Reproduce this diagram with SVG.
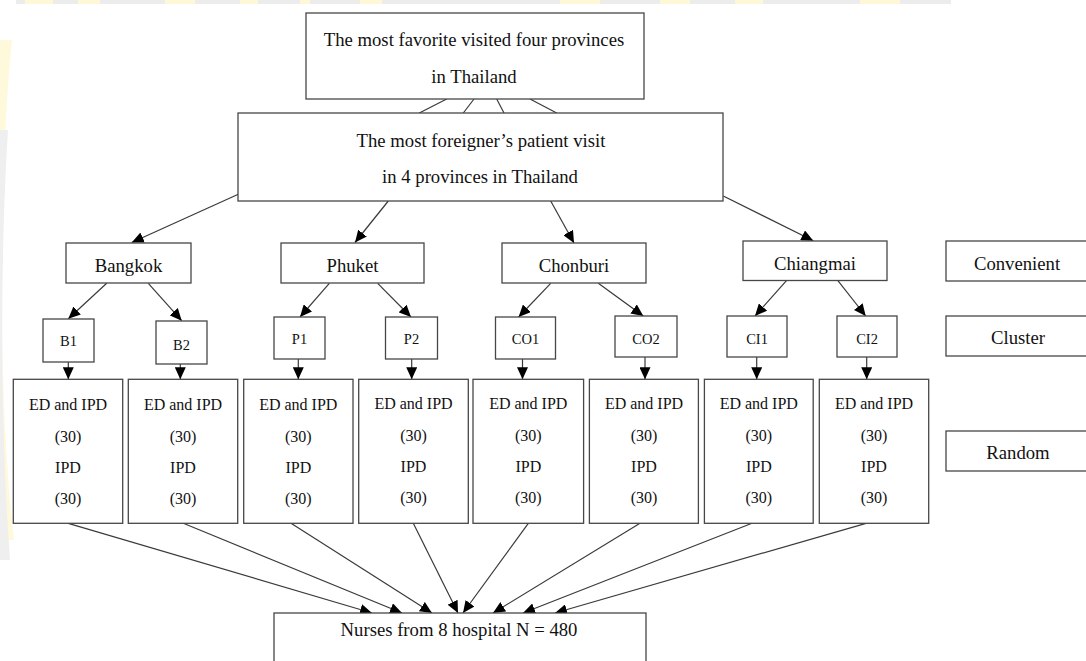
<svg xmlns="http://www.w3.org/2000/svg" width="1086" height="661" viewBox="0 0 1086 661">
<style>
.box{fill:#ffffff;stroke:#474747;stroke-width:1.3}
.t{font-family:"Liberation Serif","Times New Roman",serif;fill:#111111;text-anchor:middle}
.lg{font-size:18.7px}
.md{font-size:16px}
.sm{font-size:14.5px}
.ln{stroke:#3a3a3a;stroke-width:1.2;fill:none}
.ar{marker-end:url(#ah)}
.wy{fill:#fff8d6}
</style>
<defs>
<marker id="ah" markerUnits="userSpaceOnUse" markerWidth="12" markerHeight="11" refX="12" refY="5.5" orient="auto">
<path d="M0,0 L12,5.5 L0,11 Z" fill="#000000"/>
</marker>
</defs>
<rect width="1086" height="661" fill="#ffffff"/>
<g id="watermark">
<rect x="16" y="0" width="935" height="4" fill="#ececec"/>
<rect class="wy" x="25" y="0" width="28" height="4"/>
<rect class="wy" x="78" y="0" width="22" height="4"/>
<rect class="wy" x="165" y="0" width="30" height="4"/>
<rect class="wy" x="240" y="0" width="18" height="4"/>
<rect class="wy" x="300" y="0" width="10" height="4"/>
<rect class="wy" x="360" y="0" width="22" height="4"/>
<rect class="wy" x="560" y="0" width="40" height="4"/>
<rect class="wy" x="660" y="0" width="30" height="4"/>
<rect class="wy" x="735" y="0" width="28" height="4"/>
<rect class="wy" x="860" y="0" width="40" height="4"/>
<path d="M12,40 C-2,180 -2,400 14,540 L0,540 L0,40 Z" fill="#fff9dc"/>
<path d="M8,130 C0,260 0,420 10,560 L0,560 L0,130 Z" fill="#efefef"/>
</g>
<g id="connectors">
<line class="ln" x1="446.7" y1="99" x2="419.3" y2="113"/>
<line class="ln" x1="474" y1="99" x2="463.3" y2="113"/>
<line class="ln" x1="496.7" y1="99" x2="504" y2="113"/>
<line class="ln" x1="530" y1="99" x2="556.7" y2="113"/>
<line class="ln ar" x1="238.3" y1="194.3" x2="131.7" y2="242.5"/>
<line class="ln ar" x1="388.3" y1="201" x2="355" y2="242.5"/>
<line class="ln ar" x1="550.7" y1="201" x2="574" y2="243"/>
<line class="ln ar" x1="723.3" y1="196" x2="813.3" y2="240.7"/>
<line class="ln ar" x1="106.7" y1="283.3" x2="68.3" y2="318.7"/>
<line class="ln ar" x1="148.3" y1="283.3" x2="181.7" y2="320.7"/>
<line class="ln ar" x1="329.3" y1="283.3" x2="300" y2="317"/>
<line class="ln ar" x1="377.7" y1="283.3" x2="411" y2="317"/>
<line class="ln ar" x1="550.7" y1="283.3" x2="518.6" y2="317"/>
<line class="ln ar" x1="598.3" y1="283.3" x2="643.3" y2="316"/>
<line class="ln ar" x1="786.7" y1="280.3" x2="755" y2="316"/>
<line class="ln ar" x1="837.7" y1="280.3" x2="865.7" y2="316"/>
<line class="ln ar" x1="68.3" y1="362" x2="68.3" y2="379.3"/>
<line class="ln ar" x1="180.3" y1="364" x2="180.3" y2="379.3"/>
<line class="ln ar" x1="298.3" y1="359" x2="298.3" y2="379.3"/>
<line class="ln ar" x1="411.7" y1="359" x2="411.7" y2="379.3"/>
<line class="ln ar" x1="522.5" y1="359" x2="522.5" y2="379.3"/>
<line class="ln ar" x1="645" y1="357" x2="645" y2="379.3"/>
<line class="ln ar" x1="756.7" y1="357" x2="756.7" y2="379.3"/>
<line class="ln ar" x1="866.7" y1="357" x2="866.7" y2="379.3"/>
<line class="ln ar" x1="68.3" y1="523.3" x2="372" y2="613"/>
<line class="ln ar" x1="183.3" y1="523.3" x2="402" y2="613"/>
<line class="ln ar" x1="291" y1="523.3" x2="432" y2="613"/>
<line class="ln ar" x1="413.3" y1="523.3" x2="458" y2="613"/>
<line class="ln ar" x1="528.3" y1="523.3" x2="463" y2="613"/>
<line class="ln ar" x1="640" y1="523.3" x2="493" y2="613"/>
<line class="ln ar" x1="752" y1="523.3" x2="523" y2="613"/>
<line class="ln ar" x1="866" y1="523.3" x2="555" y2="613"/>
</g>
<g id="top">
<rect class="box" x="306" y="13" width="338" height="86"/>
<text class="t lg" x="474" y="46">The most favorite visited  four provinces</text>
<text class="t lg" x="474" y="83">in Thailand</text>
</g>
<g id="second">
<rect class="box" x="238" y="113" width="485" height="88"/>
<text class="t lg" x="481" y="147">The most foreigner’s patient visit</text>
<text class="t lg" x="480" y="183">in 4 provinces in Thailand</text>
</g>
<g id="bangkok">
<rect class="box" x="66" y="243" width="125" height="40"/>
<text class="t lg" x="128.5" y="272">Bangkok</text>
</g>
<g id="phuket">
<rect class="box" x="281" y="243" width="143" height="40"/>
<text class="t lg" x="352.5" y="272">Phuket</text>
</g>
<g id="chonburi">
<rect class="box" x="502" y="243" width="144" height="40"/>
<text class="t lg" x="574" y="272">Chonburi</text>
</g>
<g id="chiangmai">
<rect class="box" x="743" y="241" width="144" height="39.5"/>
<text class="t lg" x="815" y="269.5">Chiangmai</text>
</g>
<g id="convenient">
<rect class="box" x="946" y="241" width="146" height="40"/>
<text class="t lg" x="1017" y="270">Convenient</text>
</g>
<g id="cluster">
<rect class="box" x="946" y="316" width="146" height="40"/>
<text class="t lg" x="1018" y="344.3">Cluster</text>
</g>
<g id="random">
<rect class="box" x="946" y="431" width="146" height="40"/>
<text class="t lg" x="1018" y="459">Random</text>
</g>
<g id="b1">
<rect class="box" x="43" y="319" width="51" height="43"/>
<text class="t sm" x="68.5" y="346">B1</text>
</g>
<g id="b2">
<rect class="box" x="156" y="321" width="51" height="43"/>
<text class="t sm" x="181.5" y="350">B2</text>
</g>
<g id="p1">
<rect class="box" x="274" y="317" width="51" height="42"/>
<text class="t sm" x="299.5" y="344.3">P1</text>
</g>
<g id="p2">
<rect class="box" x="385.5" y="317" width="52" height="42"/>
<text class="t sm" x="411.5" y="344.3">P2</text>
</g>
<g id="co1">
<rect class="box" x="495.5" y="317" width="60" height="42"/>
<text class="t sm" x="525.5" y="344.3">CO1</text>
</g>
<g id="co2">
<rect class="box" x="615" y="316" width="62" height="41"/>
<text class="t sm" x="646" y="344.3">CO2</text>
</g>
<g id="ci1">
<rect class="box" x="727" y="316" width="60" height="41"/>
<text class="t sm" x="757" y="344.3">CI1</text>
</g>
<g id="ci2">
<rect class="box" x="837" y="316" width="60" height="41"/>
<text class="t sm" x="867" y="344.3">CI2</text>
</g>
<g id="ed1">
<rect class="box" x="13.3" y="379.3" width="109.4" height="144"/>
<text class="t md" x="68" y="410">ED and IPD</text>
<text class="t md" x="68" y="441.5">(30)</text>
<text class="t md" x="68" y="472.7">IPD</text>
<text class="t md" x="68" y="504.3">(30)</text>
</g>
<g id="ed2">
<rect class="box" x="128.3" y="379.3" width="109.4" height="144"/>
<text class="t md" x="183" y="410">ED and IPD</text>
<text class="t md" x="183" y="441.5">(30)</text>
<text class="t md" x="183" y="472.7">IPD</text>
<text class="t md" x="183" y="504.3">(30)</text>
</g>
<g id="ed3">
<rect class="box" x="243.7" y="379.3" width="109.3" height="144"/>
<text class="t md" x="298.3" y="410">ED and IPD</text>
<text class="t md" x="298.3" y="441.5">(30)</text>
<text class="t md" x="298.3" y="472.7">IPD</text>
<text class="t md" x="298.3" y="504.3">(30)</text>
</g>
<g id="ed4">
<rect class="box" x="358.7" y="379.3" width="109.6" height="144"/>
<text class="t md" x="413.5" y="409">ED and IPD</text>
<text class="t md" x="413.5" y="440.5">(30)</text>
<text class="t md" x="413.5" y="471.7">IPD</text>
<text class="t md" x="413.5" y="503.3">(30)</text>
</g>
<g id="ed5">
<rect class="box" x="473" y="379.3" width="110.6" height="144"/>
<text class="t md" x="528.3" y="409">ED and IPD</text>
<text class="t md" x="528.3" y="440.5">(30)</text>
<text class="t md" x="528.3" y="471.7">IPD</text>
<text class="t md" x="528.3" y="503.3">(30)</text>
</g>
<g id="ed6">
<rect class="box" x="589.4" y="379.3" width="109" height="144"/>
<text class="t md" x="644" y="409">ED and IPD</text>
<text class="t md" x="644" y="440.5">(30)</text>
<text class="t md" x="644" y="471.7">IPD</text>
<text class="t md" x="644" y="503.3">(30)</text>
</g>
<g id="ed7">
<rect class="box" x="704.4" y="379.3" width="108.8" height="144"/>
<text class="t md" x="758.8" y="409">ED and IPD</text>
<text class="t md" x="758.8" y="440.5">(30)</text>
<text class="t md" x="758.8" y="471.7">IPD</text>
<text class="t md" x="758.8" y="503.3">(30)</text>
</g>
<g id="ed8">
<rect class="box" x="819.3" y="379.3" width="109.4" height="144"/>
<text class="t md" x="874" y="409">ED and IPD</text>
<text class="t md" x="874" y="440.5">(30)</text>
<text class="t md" x="874" y="471.7">IPD</text>
<text class="t md" x="874" y="503.3">(30)</text>
</g>
<g id="nurses">
<rect class="box" x="274" y="613" width="372" height="60"/>
<text class="t lg" x="459" y="636">Nurses from 8 hospital N = 480</text>
</g>
</svg>
